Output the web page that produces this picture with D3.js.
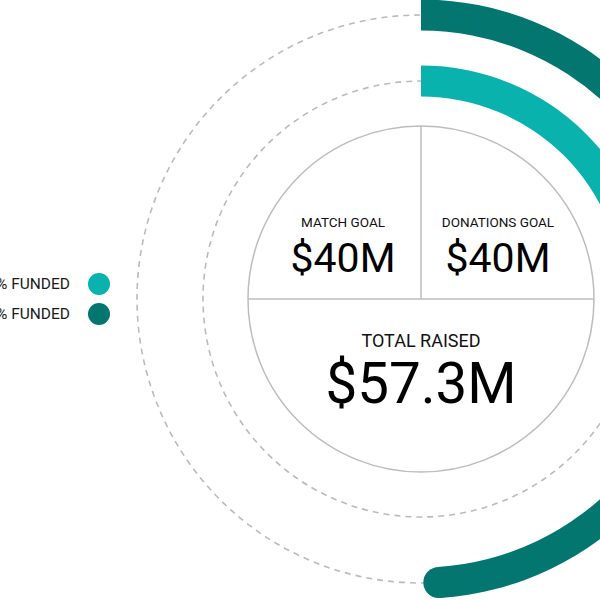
<!DOCTYPE html>
<html>
<head>
<meta charset="utf-8">
<script src="https://cdn.jsdelivr.net/npm/d3@7"></script>
<style>
  body { margin: 0; background: #fff; }
  svg { display: block; font-family: Roboto, "Noto Sans", sans-serif; }
</style>
</head>
<body>
<svg class="chart" width="600" height="600"></svg>
<script>
// funded share of each goal (the leading digits fall off the left edge)
var series = ['match', 'donations'];
var funded = [0.25, 0.49];
var legendLabels = ['25% FUNDED', '49% FUNDED'];
var colors = ['#09b2ac', '#02766f'];

var goalLabels = ['MATCH GOAL', 'DONATIONS GOAL'];
var goalValues = ['$40M', '$40M'];
var totalLabel = 'TOTAL RAISED';
var totalValue = '$57.3M';

var cx = 421, cy = 299,
    innerR = 173,
    ringR = [218, 284],
    ringW = 31;

var svg = d3.select(".chart");

var angle = d3.scaleLinear()
    .domain([0, 1])
    .range([0, 2 * Math.PI]);

var g = svg.append("g")
    .attr("transform", "translate(" + cx + "," + cy + ")");

// dashed track rings
g.selectAll("circle.track")
    .data(ringR)
  .enter().append("circle")
    .attr("class", "track")
    .attr("r", function(d) { return d; })
    .attr("fill", "none")
    .attr("stroke", "#bbbbbb")
    .attr("stroke-width", 1.6)
    .attr("stroke-dasharray", "6,5");

// progress arcs, flat start at top and round end
var arc = d3.arc()
    .innerRadius(function(d, i) { return ringR[i] - ringW / 2; })
    .outerRadius(function(d, i) { return ringR[i] + ringW / 2; })
    .startAngle(0)
    .endAngle(function(d) { return angle(d); });

var bars = g.selectAll("g.bar")
    .data(funded)
  .enter().append("g")
    .attr("class", "bar");

bars.append("path")
    .attr("d", function(d, i) { return arc(d, i); })
    .attr("fill", function(d, i) { return colors[i]; });

bars.append("circle")
    .attr("cx", function(d, i) { return ringR[i] * Math.sin(angle(d)); })
    .attr("cy", function(d, i) { return -ringR[i] * Math.cos(angle(d)); })
    .attr("r", ringW / 2)
    .attr("fill", function(d, i) { return colors[i]; });

// inner circle with dividers
g.append("circle")
    .attr("r", innerR)
    .attr("fill", "#fff")
    .attr("stroke", "#bdbdbd")
    .attr("stroke-width", 1.5);

g.append("line")
    .attr("x1", -innerR).attr("x2", innerR)
    .attr("y1", 0).attr("y2", 0)
    .attr("stroke", "#bdbdbd").attr("stroke-width", 1.5);

g.append("line")
    .attr("x1", 0).attr("x2", 0)
    .attr("y1", -innerR).attr("y2", 0)
    .attr("stroke", "#bdbdbd").attr("stroke-width", 1.5);

var goals = g.selectAll("g.goal")
    .data(goalLabels)
  .enter().append("g")
    .attr("class", "goal")
    .attr("transform", function(d, i) { return "translate(" + (i == 0 ? -78 : 77) + ",0)"; });

goals.append("text")
    .attr("y", -72)
    .attr("text-anchor", "middle")
    .attr("font-size", 13.5)
    .attr("fill", "#111")
    .text(function(d) { return d; });

goals.append("text")
    .attr("y", -27)
    .attr("text-anchor", "middle")
    .attr("font-size", 41)
    .attr("fill", "#000")
    .text(function(d, i) { return goalValues[i]; });

g.append("text")
    .attr("y", 48)
    .attr("text-anchor", "middle")
    .attr("font-size", 18)
    .attr("fill", "#111")
    .text(totalLabel);

g.append("text")
    .attr("y", 104)
    .attr("text-anchor", "middle")
    .attr("font-size", 56.5)
    .attr("fill", "#000")
    .text(totalValue);

// legend
var legend = svg.selectAll("g.legend")
    .data(series)
  .enter().append("g")
    .attr("class", "legend")
    .attr("transform", function(d, i) { return "translate(0," + (284 + i * 30) + ")"; });

legend.append("circle")
    .attr("cx", 99)
    .attr("r", 11)
    .attr("fill", function(d, i) { return colors[i]; });

legend.append("text")
    .attr("x", 70)
    .attr("dy", "0.35em")
    .attr("text-anchor", "end")
    .attr("font-size", 15.5)
    .attr("fill", "#1a1a1a")
    .text(function(d, i) { return legendLabels[i]; });
</script>
</body>
</html>
